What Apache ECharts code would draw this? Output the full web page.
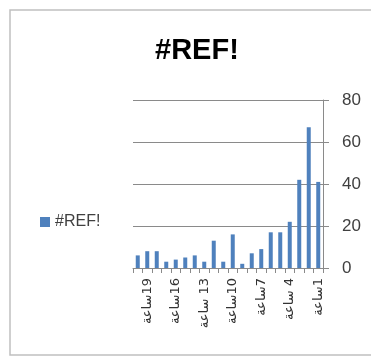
<!DOCTYPE html>
<html>
<head>
<meta charset="utf-8">
<script src="https://cdn.jsdelivr.net/npm/echarts@6/dist/echarts.min.js"></script>
<style>
html,body{margin:0;padding:0;background:#fff;}
#chart{width:371px;height:360px;}
</style>
</head>
<body>
<div id="chart"></div>
<script>
const titleText = '#REF!';
const seriesName = '#REF!';
const categories = ['ساعة1','ساعة2','ساعة3','ساعة 4','ساعة5','ساعة6','ساعة7','ساعة8','ساعة9','ساعة10',
  'ساعة11','ساعة12','ساعة 13','ساعة14','ساعة15','ساعة16','ساعة17','ساعة18','ساعة19','ساعة20'];
const values = [41,67,42,22,17,17,9,7,2,16,3,13,3,6,5,4,3,8,8,6];
const yTicks = [0,20,40,60,80];

const chart = echarts.init(document.getElementById('chart'), null, {renderer:'canvas'});
chart.setOption({
  animation:false,
  backgroundColor:'#ffffff',
  graphic:[{
    type:'rect', silent:true, z:-1,
    shape:{x:10,y:10,width:400,height:345},
    style:{fill:'none',stroke:'#c0c0c0',lineWidth:1.5}
  }],
  title:{
    text:titleText, left:150, top:31,
    textStyle:{fontFamily:'Liberation Sans',fontWeight:'bold',fontSize:29,color:'#000'}
  },
  legend:{
    left:35, top:209, itemWidth:10, itemHeight:10, itemGap:5,
    icon:'rect',
    textStyle:{fontFamily:'Liberation Sans',fontSize:16,color:'#404040'},
    data:[seriesName]
  },
  grid:{left:133,right:48,top:100,bottom:92,containLabel:false},
  xAxis:{
    type:'category', inverse:true, data:categories,
    axisLine:{show:true,lineStyle:{color:'#8a8a8a',width:1}},
    axisTick:{show:true,interval:0,length:5,lineStyle:{color:'#8a8a8a'}},
    axisLabel:{
      interval:2, rotate:90, margin:10,
      fontFamily:'DejaVu Sans', fontSize:13, color:'#333',
      formatter:v => v.replace(/(\d+)/,'\u200E$1')
    }
  },
  yAxis:{
    type:'value', position:'right', min:yTicks[0], max:yTicks[yTicks.length-1], interval:20,
    axisLine:{show:true,lineStyle:{color:'#8a8a8a',width:1}},
    axisTick:{show:true,length:6,lineStyle:{color:'#8a8a8a'}},
    splitLine:{show:true,lineStyle:{color:'#8a8a8a',width:1}},
    axisLabel:{margin:19,fontFamily:'Liberation Sans',fontSize:17,color:'#404040'}
  },
  series:[{
    name:seriesName, type:'bar', data:values,
    barWidth:4,
    itemStyle:{color:'#4f81bd'}
  }]
});
</script>
</body>
</html>
